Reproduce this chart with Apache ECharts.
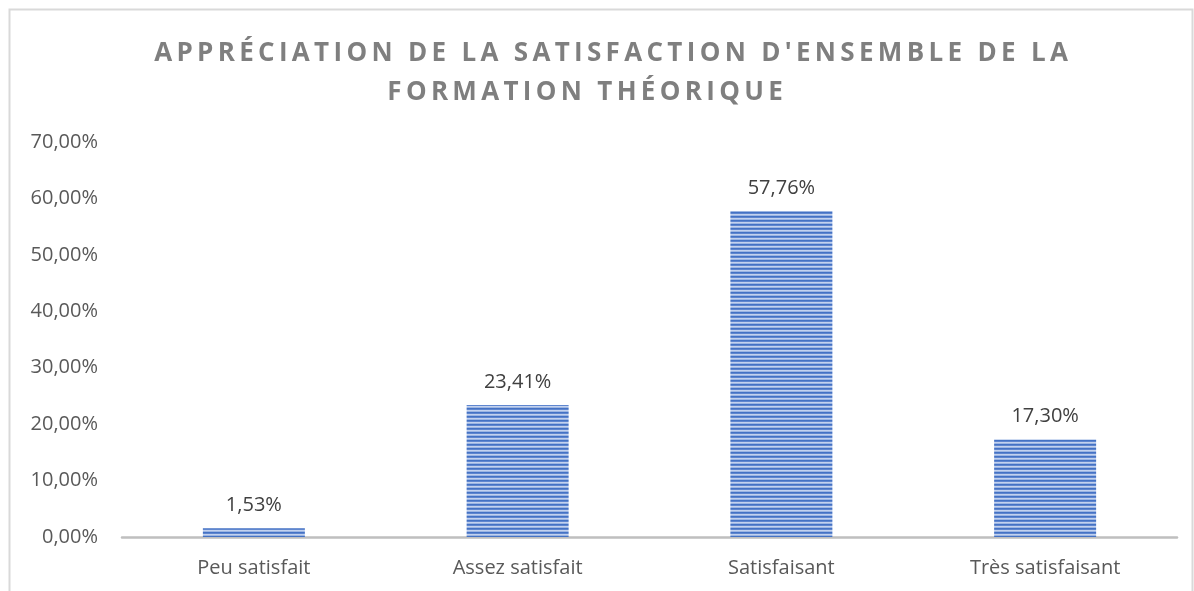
<!DOCTYPE html>
<html>
<head>
<meta charset="utf-8">
<script src="https://cdn.jsdelivr.net/npm/echarts@6/dist/echarts.min.js"></script>
<style>
  html, body { margin: 0; padding: 0; background: #fff; }
  #chart { width: 1194px; height: 591px; }
</style>
</head>
<body>
<div id="chart"></div>
<script>
// donnees
const categories = ['Peu satisfait', 'Assez satisfait', 'Satisfaisant', 'Très satisfaisant']
const values = [1.53, 23.41, 57.76, 17.30]
const titleLines = ["APPRÉCIATION DE LA SATISFACTION D'ENSEMBLE DE LA", 'FORMATION THÉORIQUE']

// espacement des lettres du titre (pas de letterSpacing dans zrender)
const spaced = s => s.split('').join('\u2009')

const fmt = v => v.toFixed(2).replace('.', ',') + '%'

// motif hachures horizontales
const makePattern = () => {
  const c = document.createElement('canvas')
  c.width = 8
  c.height = 4
  const ctx = c.getContext('2d')
  const rows = ['#4472c4', '#5f86cf', '#c3d2ee', '#9cb5e3']
  rows.forEach((col, i) => {
    ctx.fillStyle = col
    ctx.fillRect(0, i, 8, 1)
  })
  return c
}

const chart = echarts.init(document.getElementById('chart'))
const font = '"Open Sans", sans-serif'
const titleStyle = {
  fontFamily: font,
  fontWeight: 'bold',
  fontSize: 26,
  color: '#7f7f7f'
}

chart.setOption({
  animation: false,
  graphic: [
    {
      type: 'rect',
      shape: { x: 9.5, y: 9.5, width: 1183, height: 700 },
      style: { fill: 'none', stroke: '#d9d9d9', lineWidth: 2 },
      silent: true
    }
  ],
  title: [
    { text: spaced(titleLines[0]), left: 606, textAlign: 'center', top: 36, textStyle: titleStyle },
    { text: spaced(titleLines[1]), left: 580, textAlign: 'center', top: 75, textStyle: titleStyle }
  ],
  grid: { left: 122, right: 17, top: 142, bottom: 54 },
  xAxis: {
    type: 'category',
    data: categories,
    axisLine: { show: true, lineStyle: { color: '#bfbfbf', width: 2.5 } },
    axisTick: { show: false },
    axisLabel: { color: '#595959', fontFamily: font, fontSize: 20, margin: 21 }
  },
  yAxis: {
    type: 'value',
    min: 0,
    max: 70,
    interval: 10,
    splitLine: { show: false },
    axisLine: { show: false },
    axisTick: { show: false },
    axisLabel: {
      color: '#595959',
      fontFamily: font,
      fontSize: 20,
      margin: 24,
      formatter: fmt
    }
  },
  series: [
    {
      type: 'bar',
      data: values,
      barWidth: 102,
      itemStyle: { color: { image: makePattern(), repeat: 'repeat' } },
      label: {
        show: true,
        position: 'top',
        distance: 13,
        color: '#404040',
        fontFamily: font,
        fontSize: 20,
        formatter: p => fmt(p.value)
      }
    }
  ]
})
</script>
</body>
</html>
